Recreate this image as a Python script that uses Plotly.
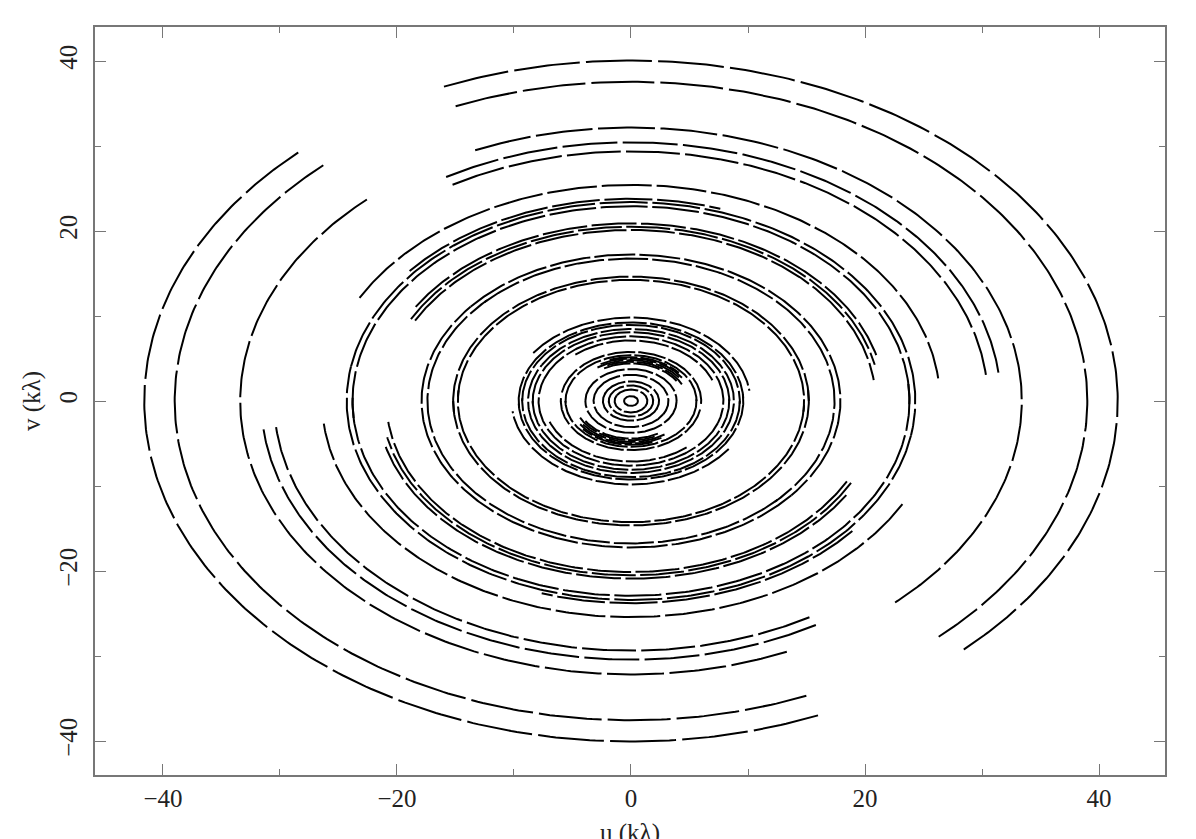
import numpy as np
import plotly.graph_objects as go

# uv tracks: u semi-axis (kλ) and hour-angle span (deg)
# each track is drawn together with its conjugate (-u, -v)
track_a = [41.6, 39.0, 33.4, 31.6, 30.5, 26.4, 24.7, 24.3, 23.8, 21.7, 21.3, 20.9,
           17.9, 17.4, 15.2, 14.8, 10.2, 9.6, 9.3, 8.8, 8.4, 7.9, 7.4,
           6.0, 5.6, 5.35, 5.2, 5.0, 4.8, 4.6, 3.9, 3.2, 2.4, 1.9, 1.4, 0.6]
track_h0 = [-22.6, -22.6, -23.5, -30, -30, -61.5, -50, -80, -95, -58, -62, -62,
            -50, -46, -95, -88, -55, -95, -90, -60, -92, -70, -40,
            -80, -92, -20, -30, -35, -25, -30, -90, -60, -70, -95, -60, -95]
track_h1 = [137.5, 137.6, 137.6, 84, 84, 84, 18, 100, 92, 75, 78, 83,
            130, 135, 90, 95, 83, 88, 92, 120, 90, 110, 70,
            95, 90, 50, 60, 55, 65, 58, 90, 120, 115, 88, 120, 90]
v_ratio = 0.963   # v semi-axis / u semi-axis

fig = go.Figure()
for a, h0, h1 in zip(track_a, track_h0, track_h1):
    b = a * v_ratio
    hh = np.radians(np.linspace(h0, h1, 240))
    # scans get longer on the longer baselines
    dash = f"{22 + 1.05 * a:.0f}px,{2.5 + 0.09 * a:.1f}px"
    for sign in (1, -1):
        fig.add_trace(go.Scatter(x=sign * a * np.sin(hh), y=sign * b * np.cos(hh),
                                 mode="lines",
                                 line=dict(color="black", width=2, dash=dash),
                                 hoverinfo="skip", showlegend=False))

tick_vals = [-40, -20, 0, 20, 40]
tick_text = ["\u221240", "\u221220", "0", "20", "40"]
axis_font = dict(family="Liberation Serif", size=25, color="#222222")
frame = "#777777"

fig.update_layout(
    width=1196, height=839,
    margin=dict(l=87, r=39, t=19, b=72),
    paper_bgcolor="white", plot_bgcolor="white",
    showlegend=False,
)
fig.update_xaxes(
    range=[-45.81, 45.64], tickvals=tick_vals, ticktext=tick_text,
    ticks="inside", ticklen=11, tickcolor=frame, tickwidth=1,
    minor=dict(dtick=10, tick0=0, ticks="inside", ticklen=6, tickcolor=frame),
    showline=True, linecolor=frame, linewidth=1.5, mirror="allticks",
    showgrid=False, zeroline=False, tickfont=axis_font, automargin=False,
    title=dict(text="u (k\u03bb)", font=axis_font, standoff=42),
)
fig.update_yaxes(
    range=[-44.0, 44.0], tickvals=tick_vals, ticktext=tick_text, tickangle=-90,
    ticks="inside", ticklen=11, tickcolor=frame, tickwidth=1,
    minor=dict(dtick=10, tick0=0, ticks="inside", ticklen=6, tickcolor=frame),
    showline=True, linecolor=frame, linewidth=1.5, mirror="allticks",
    showgrid=False, zeroline=False, tickfont=axis_font, ticklabelstandoff=6,
    automargin=False,
    title=dict(text="v (k\u03bb)", font=axis_font, standoff=8),
)

fig.write_html("out.html")
